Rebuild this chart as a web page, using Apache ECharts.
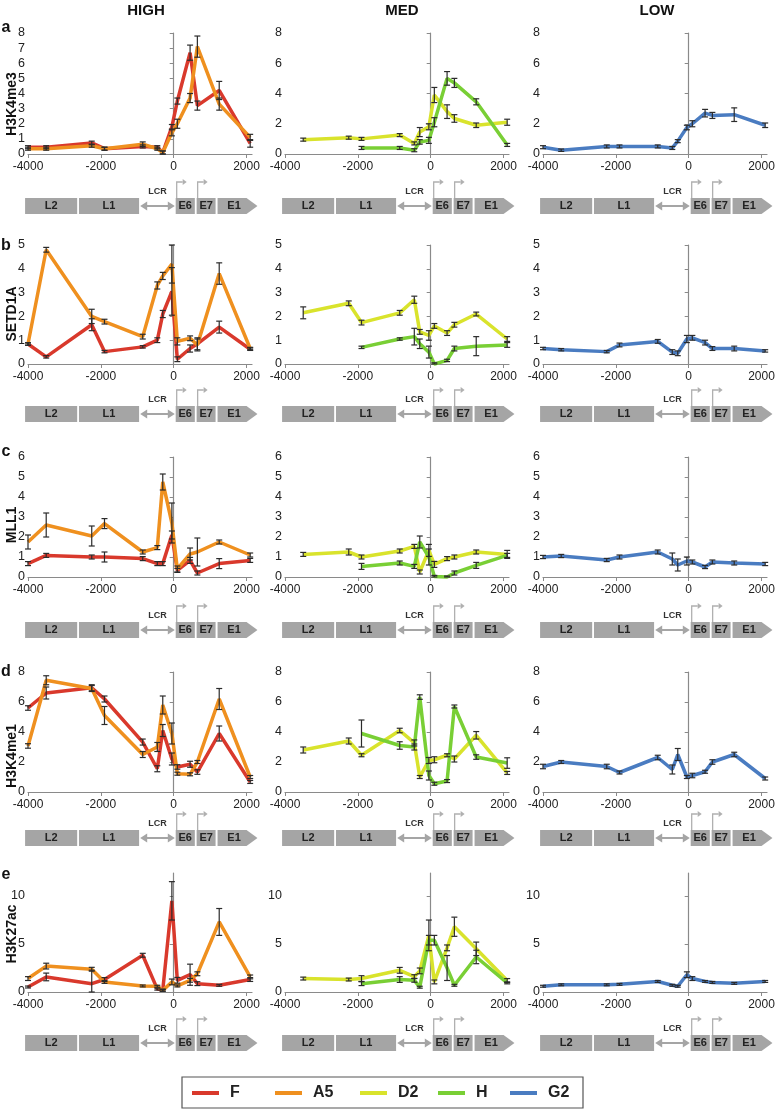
<!DOCTYPE html>
<html><head><meta charset="utf-8">
<script src="https://cdn.jsdelivr.net/npm/echarts@6/dist/echarts.min.js"></script>
<style>html,body{margin:0;padding:0;background:#fff}#c{width:778px;height:1111px}</style>
</head><body><div id="c"></div>
<script>
// ---------- data ----------
const POS = [-4000, -3500, -2250, -1900, -850, -450, -300, -50, 100, 450, 650, 1250, 2100];
const X_TICKS = [-4000, -2000, 0, 2000];
const COL_TITLES = ['HIGH', 'MED', 'LOW'];
const ROW_LETTERS = ['a', 'b', 'c', 'd', 'e'];
const ROW_NAMES = ['H3K4me3', 'SETD1A', 'MLL1', 'H3K4me1', 'H3K27ac'];
const SERIES_NAMES = ['F', 'A5', 'D2', 'H', 'G2'];
const Y_TICKS_A_HIGH = [0, 1, 2, 3, 4, 5, 6, 7, 8];
const Y_TICKS_A = [0, 2, 4, 6, 8];
const Y_TICKS_B = [0, 1, 2, 3, 4, 5];
const Y_TICKS_C = [0, 1, 2, 3, 4, 5, 6];
const Y_TICKS_D = [0, 2, 4, 6, 8];
const Y_TICKS_E = [0, 5, 10];
const Y_MAX = [8, 5, 6, 8, 12.4];

// Row a: H3K4me3
const a_F   = [0.45,0.45,0.73,0.35,0.5,0.45,0.1,1.8,3.5,6.7,3.2,4.2,0.7];
const a_F_err = [0.1,0.1,0.12,0.1,0.1,0.1,0.1,0.15,0.2,0.5,0.3,0.6,0.25];
const a_A5  = [0.35,0.35,0.55,0.35,0.65,0.35,0.1,1.4,2.0,3.7,7.1,3.3,1.1];
const a_A5_err = [0.1,0.1,0.1,0.1,0.15,0.1,0.1,0.2,0.3,0.3,0.7,0.4,0.2];
const a_D2  = [null,0.95,1.08,1.0,1.25,0.7,1.45,1.8,3.9,2.8,2.35,1.9,2.1];
const a_D2_err = [null,0.1,0.1,0.1,0.1,0.1,0.3,0.2,0.5,0.45,0.25,0.15,0.2];
const a_H   = [null,null,null,0.4,0.4,0.25,0.8,0.9,2.1,5.0,4.7,3.45,0.6];
const a_H_err = [null,null,null,0.1,0.1,0.1,0.15,0.2,0.3,0.45,0.3,0.2,0.1];
const a_G2  = [0.45,0.25,0.5,0.5,0.5,0.4,0.85,1.75,2.0,2.7,2.55,2.6,1.9];
const a_G2_err = [0.1,0.08,0.1,0.1,0.1,0.1,0.1,0.15,0.2,0.25,0.2,0.45,0.15];

// Row b: SETD1A
const b_F   = [0.84,0.3,1.65,0.52,0.72,1.0,2.1,3.05,0.2,0.65,0.85,1.55,0.62];
const b_F_err = [0.05,0.05,0.25,0.05,0.05,0.1,0.15,1.0,0.1,0.15,0.25,0.25,0.05];
const b_A5  = [0.84,4.8,2.0,1.78,1.15,3.3,3.7,4.2,0.95,1.08,0.8,3.8,0.65];
const b_A5_err = [0.05,0.1,0.3,0.1,0.1,0.15,0.15,0.8,0.15,0.1,0.25,0.45,0.05];
const b_D2  = [null,2.15,2.55,1.74,2.15,2.7,1.35,1.2,1.6,1.3,1.65,2.1,1.05];
const b_D2_err = [null,0.25,0.1,0.1,0.1,0.15,0.1,0.2,0.1,0.1,0.1,0.08,0.1];
const b_H   = [null,null,null,0.7,1.05,1.15,0.85,0.5,0.0,0.15,0.65,0.75,0.8];
const b_H_err = [null,null,null,0.05,0.05,0.35,0.2,0.25,0.05,0.05,0.1,0.4,0.1];
const b_G2  = [0.65,0.6,0.52,0.8,0.95,0.5,0.45,1.05,1.1,0.9,0.65,0.65,0.55];
const b_G2_err = [0.05,0.05,0.05,0.08,0.08,0.1,0.1,0.15,0.1,0.1,0.08,0.1,0.05];

// Row c: MLL1
const c_F   = [0.67,1.08,1.0,1.0,0.92,0.67,0.67,2.1,0.33,0.83,0.2,0.67,0.83];
const c_F_err = [0.1,0.1,0.1,0.25,0.1,0.1,0.1,0.2,0.1,0.15,0.1,0.25,0.1];
const c_A5  = [1.75,2.6,2.05,2.67,1.25,1.47,4.75,2.7,0.4,1.15,1.25,1.75,1.1];
const c_A5_err = [0.35,0.6,0.5,0.25,0.1,0.1,0.4,1.0,0.15,0.3,0.7,0.1,0.1];
const c_D2  = [null,1.13,1.25,1.0,1.3,1.53,0.25,1.33,0.63,0.92,1.0,1.25,1.13];
const c_D2_err = [null,0.1,0.15,0.1,0.1,0.1,0.1,0.3,0.15,0.1,0.1,0.1,0.2];
const c_H   = [null,null,null,0.53,0.7,0.53,1.75,1.0,0.03,0.0,0.2,0.58,1.08];
const c_H_err = [null,null,null,0.15,0.1,0.1,0.3,0.4,0.05,0.05,0.1,0.15,0.1];
const c_G2  = [1.0,1.05,0.85,1.0,1.25,0.9,0.6,0.8,0.75,0.5,0.75,0.7,0.65];
const c_G2_err = [0.08,0.08,0.08,0.1,0.1,0.3,0.3,0.2,0.1,0.08,0.1,0.1,0.08];

// Row d: H3K4me1
const d_F   = [5.6,6.6,6.95,6.2,3.33,1.55,4.1,2.2,1.67,1.85,1.33,3.9,0.67];
const d_F_err = [0.15,0.4,0.2,0.2,0.2,0.2,0.4,0.4,0.15,0.2,0.15,0.5,0.1];
const d_A5  = [3.07,7.45,6.9,5.1,2.5,3.0,5.8,3.9,1.22,1.18,2.0,6.2,1.0];
const d_A5_err = [0.15,0.3,0.2,0.6,0.2,0.3,0.6,0.7,0.1,0.1,0.1,0.7,0.1];
const d_D2  = [null,2.8,3.4,2.45,4.1,3.27,1.0,2.1,2.15,2.45,2.2,3.78,1.27];
const d_D2_err = [null,0.2,0.2,0.1,0.15,0.2,0.1,0.2,0.2,0.1,0.2,0.25,0.1];
const d_H   = [null,null,null,3.9,3.1,3.0,6.33,1.1,0.55,0.73,5.7,2.33,1.93];
const d_H_err = [null,null,null,0.9,0.25,0.2,0.15,0.3,0.1,0.1,0.1,0.15,0.35];
const d_G2  = [1.7,2.0,1.7,1.3,2.3,1.5,2.5,1.0,1.1,1.35,2.0,2.5,0.9];
const d_G2_err = [0.15,0.1,0.15,0.1,0.15,0.3,0.4,0.1,0.15,0.1,0.15,0.15,0.1];

// Row e: H3K27ac
const e_F   = [0.52,1.57,0.87,1.3,3.83,0.3,0.2,9.5,1.22,1.8,0.87,0.7,1.3];
const e_F_err = [0.1,0.4,1.4,0.2,0.2,0.1,0.1,2.0,0.3,1.1,0.2,0.1,0.2];
const e_A5  = [1.4,2.7,2.37,1.05,0.63,0.6,0.17,1.05,0.63,1.22,1.9,7.3,1.57];
const e_A5_err = [0.2,0.3,0.2,0.15,0.1,0.1,0.1,0.3,0.1,0.2,0.2,1.4,0.2];
const e_D2  = [null,1.4,1.3,1.4,2.26,1.6,2.2,5.9,1.05,4.6,6.8,4.5,1.2];
const e_D2_err = [null,0.15,0.15,0.3,0.3,0.2,0.3,1.6,0.2,0.3,1.0,0.7,0.2];
const e_H   = [null,null,null,0.87,1.3,1.22,0.5,5.4,5.4,2.5,0.7,3.65,0.95];
const e_H_err = [null,null,null,0.2,0.3,0.2,0.1,0.5,0.5,1.3,0.1,0.7,0.1];
const e_G2  = [0.6,0.75,0.75,0.8,1.1,0.7,0.6,1.8,1.4,1.1,1.0,0.9,1.1];
const e_G2_err = [0.1,0.1,0.1,0.1,0.1,0.1,0.1,0.3,0.2,0.1,0.1,0.1,0.1];

// ---------- layout / style ----------
const FONT = '"Liberation Sans", Arial, sans-serif';
const COLORS = {F:'#d9392c', A5:'#ef901f', D2:'#d9e32c', H:'#79cf35', G2:'#4a7cc1'};
const COL_LEFT = [28, 285, 543];
const COL_CENTER = [146, 402, 657];
const GRID_W = 224;
const ROW_TOP = [33, 245, 457, 672, 873];
const ROW_H = [121, 119, 120, 120, 119];
const GENE_TOP = [198, 406, 622, 830, 1035];
const LETTER_Y = [28, 246, 452, 672, 875];
const NAME_Y = [104, 314, 525, 756, 934];
const X_MIN = -4000, X_MAX = 2150;
const COL_SERIES = [['F','A5'], ['D2','H'], ['G2']];
const ROW_DATA = [
  {F:[a_F,a_F_err], A5:[a_A5,a_A5_err], D2:[a_D2,a_D2_err], H:[a_H,a_H_err], G2:[a_G2,a_G2_err]},
  {F:[b_F,b_F_err], A5:[b_A5,b_A5_err], D2:[b_D2,b_D2_err], H:[b_H,b_H_err], G2:[b_G2,b_G2_err]},
  {F:[c_F,c_F_err], A5:[c_A5,c_A5_err], D2:[c_D2,c_D2_err], H:[c_H,c_H_err], G2:[c_G2,c_G2_err]},
  {F:[d_F,d_F_err], A5:[d_A5,d_A5_err], D2:[d_D2,d_D2_err], H:[d_H,d_H_err], G2:[d_G2,d_G2_err]},
  {F:[e_F,e_F_err], A5:[e_A5,e_A5_err], D2:[e_D2,e_D2_err], H:[e_H,e_H_err], G2:[e_G2,e_G2_err]}
];
function yTicks(r, c){
  if (r === 0) return c === 0 ? Y_TICKS_A_HIGH : Y_TICKS_A;
  return [Y_TICKS_A, Y_TICKS_B, Y_TICKS_C, Y_TICKS_D, Y_TICKS_E][r];
}
const AXIS_COLOR = '#8a8a8a';
const LABEL_COLOR = '#222';
const plainNum = v => String(v);

function renderErr(params, api){
  const x = api.value(0), y = api.value(1), e = api.value(2);
  const p1 = api.coord([x, y + e]);
  const p0 = api.coord([x, Math.max(0, y - e)]);
  const w = 3;
  const st = {stroke:'#2b2b2b', lineWidth:1.2};
  return {type:'group', children:[
    {type:'line', shape:{x1:p1[0], y1:p1[1], x2:p0[0], y2:p0[1]}, style:st},
    {type:'line', shape:{x1:p1[0]-w, y1:p1[1], x2:p1[0]+w, y2:p1[1]}, style:st},
    {type:'line', shape:{x1:p0[0]-w, y1:p0[1], x2:p0[0]+w, y2:p0[1]}, style:st}
  ]};
}

const grids = [], xAxes = [], yAxes = [], series = [], graphics = [];
for (let r = 0; r < 5; r++) {
  for (let c = 0; c < 3; c++) {
    const i = r * 3 + c;
    grids.push({left: COL_LEFT[c], top: ROW_TOP[r], width: GRID_W, height: ROW_H[r]});
    xAxes.push({
      gridIndex: i, type: 'value', min: X_MIN, max: X_MAX,
      axisLine: {onZero: true, lineStyle: {color: AXIS_COLOR, width: 1.2}},
      axisTick: {show: true, customValues: X_TICKS, length: 4, lineStyle: {color: AXIS_COLOR}},
      axisLabel: {customValues: X_TICKS, formatter: plainNum, fontSize: 12, color: LABEL_COLOR, margin: 7, fontFamily: FONT},
      splitLine: {show: false}
    });
    const yt = yTicks(r, c);
    yAxes.push({
      gridIndex: i, type: 'value', min: 0, max: Y_MAX[r],
      axisLine: {show: true, onZero: true, lineStyle: {color: AXIS_COLOR, width: 1.2}},
      axisTick: {show: true, customValues: yt, length: 4, lineStyle: {color: AXIS_COLOR}},
      axisLabel: {customValues: yt, formatter: plainNum, fontSize: 12.5, color: LABEL_COLOR, margin: 3, fontFamily: FONT},
      splitLine: {show: false}
    });
    for (const name of COL_SERIES[c]) {
      const [vals, errs] = ROW_DATA[r][name];
      const pts = [], ebs = [];
      POS.forEach((x, k) => {
        if (vals[k] !== null && vals[k] !== undefined) {
          pts.push([x, vals[k]]);
          ebs.push([x, vals[k], errs[k]]);
        }
      });
      series.push({
        type: 'line', name: name, xAxisIndex: i, yAxisIndex: i, data: pts,
        symbol: 'none', showSymbol: false, silent: true, animation: false, clip: false,
        lineStyle: {width: 3.5, color: COLORS[name]}, itemStyle: {color: COLORS[name]},
        z: 2
      });
      series.push({
        type: 'custom', name: name + ' err', xAxisIndex: i, yAxisIndex: i, data: ebs,
        renderItem: renderErr, encode: {x: 0, y: 1}, silent: true, animation: false, clip: false,
        z: 3
      });
    }
    // gene diagram (decoration)
    const left = COL_LEFT[c];
    const sc = GRID_W / (X_MAX - X_MIN);
    const px = g => left + (g - X_MIN) * sc;
    const t = GENE_TOP[r], h = 16, cy = t + h / 2;
    const gray = '#a5a5a5';
    const boxes = [['L2', -4080, -2650], ['L1', -2600, -950], ['E6', 55, 580], ['E7', 630, 1150]];
    for (const [lab, g0, g1] of boxes) {
      graphics.push({type:'rect', shape:{x:px(g0), y:t, width:px(g1)-px(g0), height:h}, style:{fill:gray}, silent:true});
      graphics.push({type:'text', x:(px(g0)+px(g1))/2, y:cy, style:{text:lab, font:'bold 11px ' + FONT, fill:'#222', align:'center', verticalAlign:'middle'}, silent:true});
    }
    const e1a = px(1205), e1b = px(2000), e1t = px(2300);
    graphics.push({type:'polygon', shape:{points:[[e1a,t],[e1b,t],[e1t,cy],[e1b,t+h],[e1a,t+h]]}, style:{fill:gray}, silent:true});
    graphics.push({type:'text', x:(e1a+e1b)/2 + 2, y:cy, style:{text:'E1', font:'bold 11px ' + FONT, fill:'#222', align:'center', verticalAlign:'middle'}, silent:true});
    // LCR double arrow
    const la = px(-920), lb = px(30);
    graphics.push({type:'line', shape:{x1:la+5, y1:cy, x2:lb-5, y2:cy}, style:{stroke:gray, lineWidth:2}, silent:true});
    graphics.push({type:'polygon', shape:{points:[[la,cy],[la+7,cy-4.5],[la+7,cy+4.5]]}, style:{fill:gray}, silent:true});
    graphics.push({type:'polygon', shape:{points:[[lb,cy],[lb-7,cy-4.5],[lb-7,cy+4.5]]}, style:{fill:gray}, silent:true});
    graphics.push({type:'text', x:(la+lb)/2, y:t-6, style:{text:'LCR', font:'bold 9px ' + FONT, fill:'#333', align:'center', verticalAlign:'middle'}, silent:true});
    // TSS bent arrows
    for (const g of [55, 630]) {
      const x0 = px(g) + 1;
      graphics.push({type:'polyline', shape:{points:[[x0,t],[x0,t-16],[x0+6,t-16]]}, style:{stroke:'#b0b0b0', lineWidth:1.3, fill:null}, silent:true});
      graphics.push({type:'polygon', shape:{points:[[x0+6,t-19],[x0+10,t-16],[x0+6,t-13]]}, style:{fill:'#b0b0b0'}, silent:true});
    }
  }
  graphics.push({type:'text', x:6, y:LETTER_Y[r], style:{text:ROW_LETTERS[r], font:'bold 16px ' + FONT, fill:'#111', align:'center', verticalAlign:'middle'}, silent:true});
  graphics.push({type:'text', x:12, y:NAME_Y[r], rotation:Math.PI/2, style:{text:ROW_NAMES[r], font:'bold 14px ' + FONT, fill:'#111', align:'center', verticalAlign:'middle'}, silent:true});
}
for (let c = 0; c < 3; c++) {
  graphics.push({type:'text', x:COL_CENTER[c], y:11, style:{text:COL_TITLES[c], font:'bold 15px ' + FONT, fill:'#111', align:'center', verticalAlign:'middle'}, silent:true});
}
// legend border
graphics.push({type:'rect', shape:{x:182, y:1077, width:401, height:31}, style:{fill:'none', stroke:'#555', lineWidth:1.2}, silent:true});

const LEG_X = [192, 275, 360, 438, 510];
const legends = SERIES_NAMES.map((n, k) => ({
  data: [n], left: LEG_X[k], top: 1084, icon: 'rect', itemWidth: 27, itemHeight: 4,
  padding: 0, selectedMode: false,
  textStyle: {fontSize: 16, fontWeight: 'bold', color: '#222', fontFamily: FONT, padding: [0, 0, 0, 6], lineHeight: 18}
}));

const chart = echarts.init(document.getElementById('c'), null, {renderer: 'canvas'});
chart.setOption({
  animation: false,
  backgroundColor: '#fff',
  grid: grids, xAxis: xAxes, yAxis: yAxes, series: series,
  legend: legends,
  graphic: graphics
});
</script></body></html>
